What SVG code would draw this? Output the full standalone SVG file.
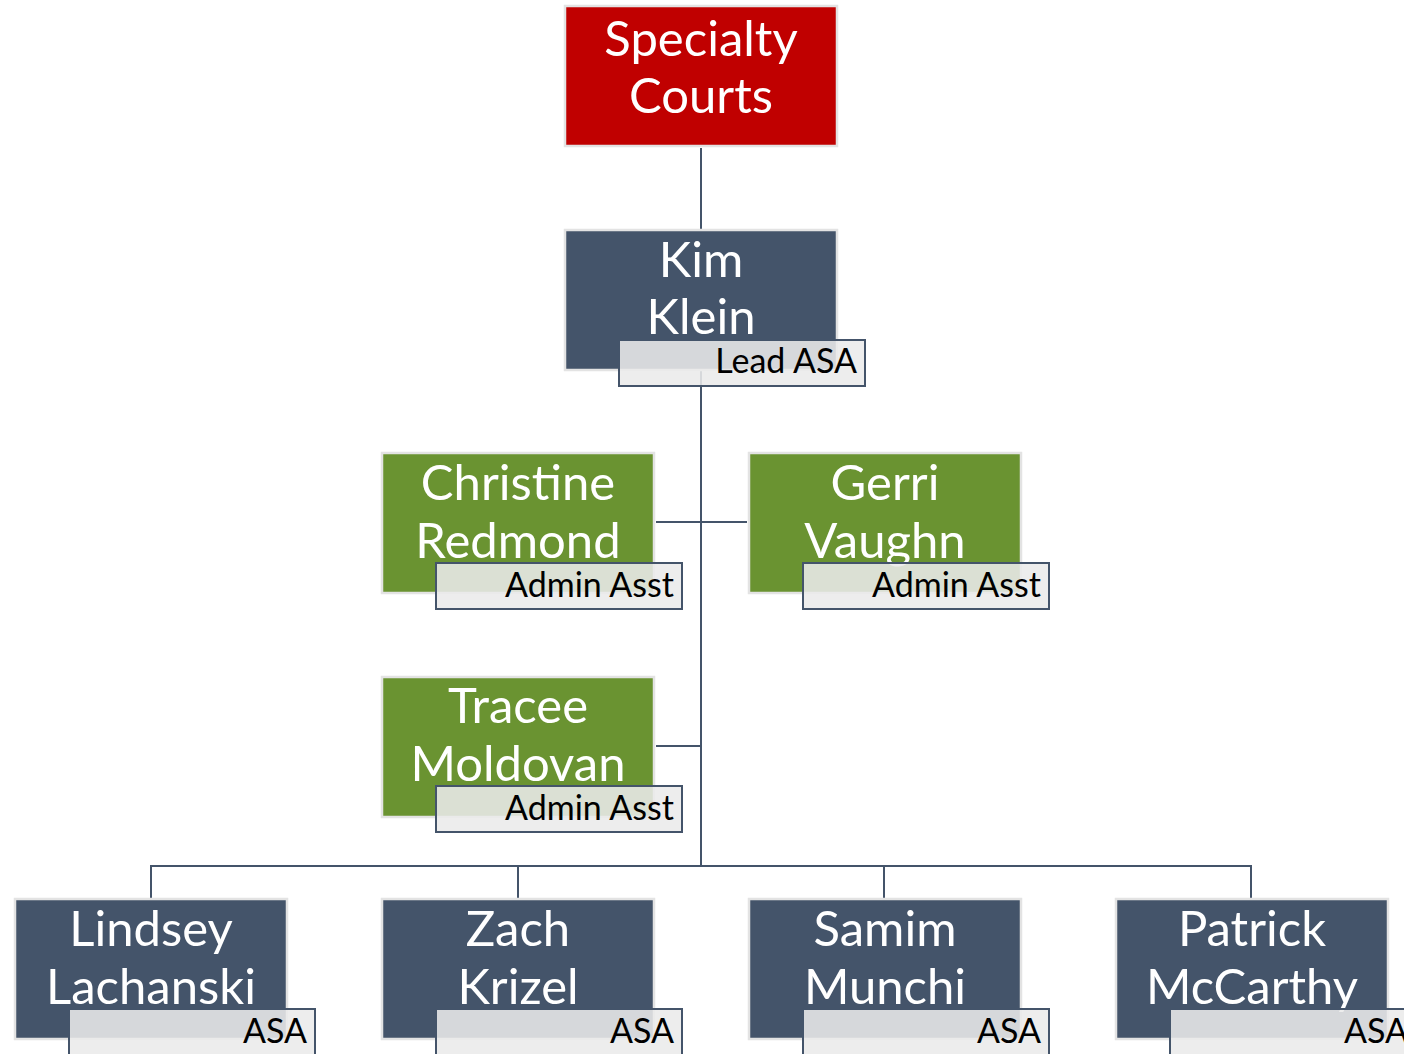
<svg xmlns="http://www.w3.org/2000/svg" width="1404" height="1054" viewBox="0 0 1404 1054">
  <style>
    .box { stroke: #e3e3e3; stroke-width: 2.5; }
    .red { fill: #c00000; }
    .navy { fill: #44546a; }
    .green { fill: #6a9331; }
    .tag { fill: #eaeaea; fill-opacity: 0.88; stroke: #44546a; stroke-width: 2; }
    .name { font-family: Lato, "Open Sans", sans-serif; font-size: 49px; fill: #ffffff; text-anchor: middle; }
    .role { font-family: Lato, "Open Sans", sans-serif; font-size: 34px; fill: #000000; text-anchor: end; }
    .link { fill: none; stroke: #44546a; stroke-width: 2; }
  </style>
  <rect width="1404" height="1054" fill="#ffffff"/>

  <!-- reporting lines -->
  <g id="connectors">
    <path class="link" d="M701 148 V229"/>
    <path class="link" d="M701 371 V866"/>
    <path class="link" d="M656 522 H747"/>
    <path class="link" d="M656 746 H701"/>
    <path class="link" d="M151 898 V866 H1251 V898"/>
    <path class="link" d="M518 866 V898"/>
    <path class="link" d="M884 866 V898"/>
  </g>

  <g id="specialty-courts">
    <rect class="box red" x="565" y="6" width="272" height="140"/>
    <text class="name" x="701" y="56">Specialty</text>
    <text class="name" x="701" y="113">Courts</text>
  </g>

  <g id="kim-klein">
    <rect class="box navy" x="565" y="230" width="272" height="140"/>
    <text class="name" x="701" y="277">Kim</text>
    <text class="name" x="701" y="334">Klein</text>
    <rect class="tag" x="619" y="340" width="246" height="46"/>
    <text class="role" x="857" y="373">Lead ASA</text>
  </g>

  <g id="christine-redmond">
    <rect class="box green" x="382" y="453" width="272" height="140"/>
    <text class="name" x="518" y="500">Christine</text>
    <text class="name" x="518" y="558">Redmond</text>
    <rect class="tag" x="436" y="563" width="246" height="46"/>
    <text class="role" x="674" y="597">Admin Asst</text>
  </g>

  <g id="gerri-vaughn">
    <rect class="box green" x="749" y="453" width="272" height="140"/>
    <text class="name" x="885" y="500">Gerri</text>
    <text class="name" x="885" y="558">Vaughn</text>
    <rect class="tag" x="803" y="563" width="246" height="46"/>
    <text class="role" x="1041" y="597">Admin Asst</text>
  </g>

  <g id="tracee-moldovan">
    <rect class="box green" x="382" y="677" width="272" height="140"/>
    <text class="name" x="518" y="723">Tracee</text>
    <text class="name" x="518" y="781">Moldovan</text>
    <rect class="tag" x="436" y="786" width="246" height="46"/>
    <text class="role" x="674" y="820">Admin Asst</text>
  </g>

  <g id="lindsey-lachanski">
    <rect class="box navy" x="15" y="899" width="272" height="140"/>
    <text class="name" x="151" y="946">Lindsey</text>
    <text class="name" x="151" y="1004">Lachanski</text>
    <rect class="tag" x="69" y="1009" width="246" height="50"/>
    <text class="role" x="307" y="1043">ASA</text>
  </g>

  <g id="zach-krizel">
    <rect class="box navy" x="382" y="899" width="272" height="140"/>
    <text class="name" x="518" y="946">Zach</text>
    <text class="name" x="518" y="1004">Krizel</text>
    <rect class="tag" x="436" y="1009" width="246" height="50"/>
    <text class="role" x="674" y="1043">ASA</text>
  </g>

  <g id="samim-munchi">
    <rect class="box navy" x="749" y="899" width="272" height="140"/>
    <text class="name" x="885" y="946">Samim</text>
    <text class="name" x="885" y="1004">Munchi</text>
    <rect class="tag" x="803" y="1009" width="246" height="50"/>
    <text class="role" x="1041" y="1043">ASA</text>
  </g>

  <g id="patrick-mccarthy">
    <rect class="box navy" x="1116" y="899" width="272" height="140"/>
    <text class="name" x="1252" y="946">Patrick</text>
    <text class="name" x="1252" y="1004">McCarthy</text>
    <rect class="tag" x="1170" y="1009" width="246" height="50"/>
    <text class="role" x="1408" y="1043">ASA</text>
  </g>
</svg>
